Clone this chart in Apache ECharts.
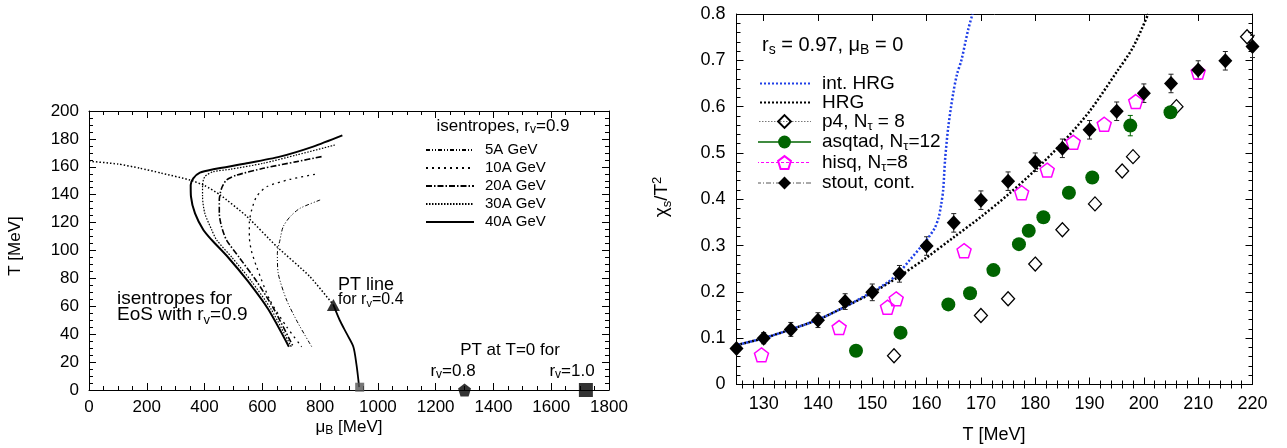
<!DOCTYPE html>
<html>
<head>
<meta charset="utf-8">
<script src="https://cdn.jsdelivr.net/npm/echarts@6/dist/echarts.min.js"></script>
<style>
  html, body { margin: 0; padding: 0; background: #fff; }
  #chart { width: 1287px; height: 448px; }
</style>
</head>
<body>
<div id="chart"></div>
<script>
const FONT = '"Liberation Sans", Arial, Helvetica, sans-serif';

// ---- Left panel: isentropes in the (mu_B, T) plane, pairs [mu_B MeV, T MeV] ----
const isen5A  = [[800,136.2],[730,130.2],[696,124.2],[672,117],[661,107.5],[652,98],[655,83.6],[684,64.5],[724,47.8],[771,31]];
const isen10A = [[782,154.6],[696,151],[615,145.7],[580,138.6],[563,129],[555,119.5],[555,110],[562,100],[580,88.4],[626,64.5],[684,45.4],[736,31]];
const isen20A = [[805,167.3],[719,163.7],[603,158.9],[511,154],[476,150.5],[459,144.6],[451,136.2],[451,126.6],[459,117],[476,107.5],[520,95],[580,78],[640,58],[707,31]];
const isen30A = [[851,175.6],[719,168.5],[603,162.5],[488,158.2],[430,156.5],[401,153],[393,147],[393,138.6],[401,126.6],[425,114.7],[442,107.5],[495,95],[562,78],[630,58],[700,31]];
const isen40A = [[877,182.5],[776,174.5],[661,167.3],[546,162.5],[430,158.2],[384,155.8],[361,151.7],[352,147],[353,138.6],[367,126.6],[396,114.7],[425,107.5],[482,95],[550,78],[620,58],[692,31]];
// phase transition line for r_v = 0.4 (crossover part, then first-order part)
const ptCrossover = [[0,164],[100,162],[176,159],[250,155.5],[350,150.5],[400,146.5],[453,140],[546,124.5],[649,103],[764,81.4],[846,61]];
const ptFirstOrder = [[846,61],[868,50],[893,40],[915,31],[926,18],[932,8],[935,2]];
const criticalPoint = [[846,61]];
const ptZeroR04 = [[937,2]];
const ptZeroR08 = [[1300,0]];
const ptZeroR10 = [[1720,0]];

// ---- Right panel: chi_s / T^2 versus T ----
const tickT = [130,140,150,160,170,180,190,200,210,220];
const tStout = [125,130,135,140,145,150,155,160,165,170,175,180,185,190,195,200,205,210,215,220];
const vStout = [0.078,0.100,0.119,0.139,0.179,0.199,0.239,0.299,0.349,0.398,0.439,0.480,0.510,0.550,0.590,0.629,0.650,0.679,0.699,0.730];
const eStout = [0.008,0.012,0.015,0.016,0.017,0.018,0.018,0.020,0.020,0.020,0.020,0.020,0.020,0.020,0.020,0.020,0.020,0.020,0.020,0.024];
const tP4 = [154.0,170.0,175.0,180.0,185.0,191.0,196.0,198.0,206.0,219.0];
const vP4 = [0.062,0.149,0.185,0.260,0.334,0.390,0.461,0.492,0.600,0.751];
const tAsq = [147.0,155.2,164.0,168.0,172.3,177.0,178.8,181.5,186.2,190.5,197.5,204.9];
const vAsq = [0.073,0.112,0.173,0.197,0.247,0.303,0.332,0.361,0.414,0.447,0.559,0.588];
const eAsq = [0.006,0.006,0.006,0.007,0.007,0.008,0.008,0.008,0.010,0.010,0.022,0.010];
const tHisq = [129.6,143.9,152.8,154.4,166.9,177.5,182.2,187.0,192.7,198.5,210.0];
const vHisq = [0.064,0.123,0.167,0.185,0.289,0.414,0.463,0.523,0.562,0.611,0.675];
const tHRG = [125,130,135,140,145,150,155,160,165,170,175,180,185,190,195,198,200.8];
const vHRG = [0.085,0.100,0.119,0.140,0.168,0.198,0.234,0.274,0.318,0.362,0.410,0.463,0.522,0.590,0.675,0.728,0.800];
const tIntHRG = [125,130,135,140,145,150,153,155,157,159,160.5,161.5,162.2,162.7,163.05,163.4,164.0,164.9,165.6,166.4,167.65,168.45];
const vIntHRG = [0.085,0.100,0.119,0.140,0.168,0.200,0.222,0.243,0.270,0.298,0.320,0.338,0.360,0.390,0.420,0.485,0.557,0.629,0.670,0.700,0.766,0.800];

// minor tick positions on the T axis (every 2 MeV between labelled ticks)
const minorT = [];
for (let t = 126; t <= 220; t += 2) if (t % 10 !== 0) minorT.push(t);

const zip = (xs, ys) => xs.map((x, i) => [x, ys[i]]);
const band = (xs, ys, es) => xs.map((x, i) => [x, ys[i] - es[i], ys[i] + es[i]]);

const PENTAGON = 'path://M0,-1L0.951,-0.309L0.588,0.809L-0.588,0.809L-0.951,-0.309Z';

function errorBars(color, cap) {
  return function (params, api) {
    const x = api.value(0);
    const a = api.coord([x, api.value(1)]);
    const b = api.coord([x, api.value(2)]);
    const st = { stroke: color, lineWidth: 1 };
    return { type: 'group', children: [
      { type: 'line', shape: { x1: a[0], y1: a[1], x2: b[0], y2: b[1] }, style: st },
      { type: 'line', shape: { x1: a[0] - cap, y1: a[1], x2: a[0] + cap, y2: a[1] }, style: st },
      { type: 'line', shape: { x1: b[0] - cap, y1: b[1], x2: b[0] + cap, y2: b[1] }, style: st }
    ]};
  };
}

function axisBase(extra) {
  return Object.assign({
    type: 'value',
    axisLine: { show: true, onZero: false, lineStyle: { color: '#000', width: 1 } },
    axisTick: { show: true, inside: true, length: 7, lineStyle: { color: '#000' } },
    splitLine: { show: false },
    axisLabel: { show: false },
    axisPointer: { show: false }
  }, extra);
}
const tickLabel = (size, margin) => ({
  show: true, color: '#000', fontFamily: FONT, fontSize: size, margin: margin,
  showMinLabel: true, showMaxLabel: true, formatter: v => String(v)
});

// rich text for zrender graphic texts
function richSet(F) {
  const small = Math.round(F * 0.68);
  return {
    m: { fontSize: F, lineHeight: Math.round(F * 1.2), fontFamily: FONT, fill: '#000' },
    s: { fontSize: small, lineHeight: Math.round(F * 0.5), verticalAlign: 'bottom', fontFamily: FONT, fill: '#000' },
    p: { fontSize: small, lineHeight: Math.round(F * 0.5), verticalAlign: 'top', fontFamily: FONT, fill: '#000' }
  };
}
function label(x, y, text, F, align, rot) {
  return {
    type: 'text', x: x, y: y, rotation: rot || 0, silent: true, z: 100,
    style: { text: text, rich: richSet(F), align: align || 'left', verticalAlign: 'middle', fill: '#000', fontFamily: FONT, fontSize: F }
  };
}

const legendRich = {
  'int. HRG': '{m|int. HRG}',
  'HRG': '{m|HRG}',
  'p4, Nτ = 8': '{m|p4, N}{s|τ}{m| = 8}',
  'asqtad, Nτ=12': '{m|asqtad, N}{s|τ}{m|=12}',
  'hisq, Nτ=8': '{m|hisq, N}{s|τ}{m|=8}',
  'stout, cont.': '{m|stout, cont.}'
};
const lineOnly = { itemStyle: { opacity: 0 } };

const chart = echarts.init(document.getElementById('chart'), null, { renderer: 'canvas' });

chart.setOption({
  animation: false,
  backgroundColor: '#fff',
  grid: [
    { left: 89, top: 111, width: 520, height: 279 },
    { left: 736.5, top: 14, width: 516, height: 370.5 }
  ],
  xAxis: [
    axisBase({ gridIndex: 0, min: 0, max: 1800, interval: 200, position: 'bottom',
      minorTick: { show: true, splitNumber: 4, length: 4, lineStyle: { color: '#000' } },
      axisLabel: tickLabel(17, 9) }),
    axisBase({ gridIndex: 0, min: 0, max: 1800, interval: 200, position: 'top',
      minorTick: { show: true, splitNumber: 4, length: 4, lineStyle: { color: '#000' } } }),
    axisBase({ gridIndex: 1, min: 125, max: 220, position: 'bottom',
      axisTick: { show: true, inside: true, length: 7, customValues: tickT, lineStyle: { color: '#000' } },
      axisLabel: Object.assign(tickLabel(18, 11), { customValues: tickT }) }),
    axisBase({ gridIndex: 1, min: 125, max: 220, position: 'top',
      axisTick: { show: true, inside: true, length: 7, customValues: tickT, lineStyle: { color: '#000' } } }),
    axisBase({ gridIndex: 1, min: 125, max: 220, position: 'bottom', axisLine: { show: false },
      axisTick: { show: true, inside: true, length: 4, customValues: minorT, lineStyle: { color: '#000' } } }),
    axisBase({ gridIndex: 1, min: 125, max: 220, position: 'top', axisLine: { show: false },
      axisTick: { show: true, inside: true, length: 4, customValues: minorT, lineStyle: { color: '#000' } } })
  ],
  yAxis: [
    axisBase({ gridIndex: 0, min: 0, max: 200, interval: 20, position: 'left',
      minorTick: { show: true, splitNumber: 4, length: 4, lineStyle: { color: '#000' } },
      axisLabel: tickLabel(17, 10) }),
    axisBase({ gridIndex: 0, min: 0, max: 200, interval: 20, position: 'right',
      minorTick: { show: true, splitNumber: 4, length: 4, lineStyle: { color: '#000' } } }),
    axisBase({ gridIndex: 1, min: 0, max: 0.8, interval: 0.1, position: 'left',
      minorTick: { show: true, splitNumber: 5, length: 4, lineStyle: { color: '#000' } },
      axisLabel: tickLabel(18, 11) }),
    axisBase({ gridIndex: 1, min: 0, max: 0.8, interval: 0.1, position: 'right',
      minorTick: { show: true, splitNumber: 5, length: 4, lineStyle: { color: '#000' } } })
  ],
  legend: [
    {
      orient: 'vertical', left: 420, top: 137, itemWidth: 48, itemHeight: 10, itemGap: 2,
      selectedMode: false,
      textStyle: { fontFamily: FONT, fontSize: 15, color: '#000', lineHeight: 16, padding: [0, 0, 0, 6] },
      data: ['5A GeV', '10A GeV', '20A GeV', '30A GeV', '40A GeV'].map(n => Object.assign({ name: n }, lineOnly))
    },
    {
      orient: 'vertical', left: 752, top: 69, itemWidth: 53, itemHeight: 16, itemGap: 0,
      selectedMode: false,
      formatter: name => legendRich[name] || name,
      textStyle: {
        fontFamily: FONT, fontSize: 19, color: '#000', padding: [0, 0, 0, 6],
        rich: {
          m: { fontFamily: FONT, fontSize: 19, lineHeight: 22, color: '#000' },
          s: { fontFamily: FONT, fontSize: 13, lineHeight: 10, verticalAlign: 'bottom', color: '#000' }
        }
      },
      data: [
        Object.assign({ name: 'int. HRG' }, lineOnly),
        Object.assign({ name: 'HRG' }, lineOnly),
        { name: 'p4, Nτ = 8', lineStyle: { color: '#777', width: 1, type: [1.5, 1.5], opacity: 1 } },
        { name: 'asqtad, Nτ=12', lineStyle: { color: '#006400', width: 1.3, type: 'solid', opacity: 1 } },
        { name: 'hisq, Nτ=8', lineStyle: { color: '#ff00ff', width: 1, type: [3, 2], opacity: 1 } },
        { name: 'stout, cont.', lineStyle: { color: '#555', width: 1, type: [5, 2, 1, 2], opacity: 1 } }
      ]
    }
  ],
  graphic: [
    // left panel labels
    label(15, 246, '{m|T [MeV]}', 17, 'center', Math.PI / 2),
    label(349, 427, '{m|μ}{s|B}{m| [MeV]}', 17, 'center'),
    label(503, 126, '{m|isentropes, r}{s|v}{m|=0.9}', 17, 'center'),
    label(117, 299, '{m|isentropes for}', 19, 'left'),
    label(117, 315, '{m|EoS with r}{s|v}{m|=0.9}', 19, 'left'),
    label(338, 285, '{m|PT line}', 18, 'left'),
    label(338, 300, '{m|for r}{s|v}{m|=0.4}', 16, 'left'),
    label(510, 350, '{m|PT at T=0 for}', 17, 'center'),
    label(453, 371, '{m|r}{s|v}{m|=0.8}', 17, 'center'),
    label(572, 371, '{m|r}{s|v}{m|=1.0}', 17, 'center'),
    // right panel labels
    label(662, 197, '{m|χ}{s|s}{m|/T}{p|2}', 19, 'center', Math.PI / 2),
    label(994, 435, '{m|T [MeV]}', 18, 'center'),
    label(762, 45, '{m|r}{s|s}{m| = 0.97, μ}{s|B}{m| = 0}', 20, 'left')
  ],
  series: [
    // ---- left panel ----
    { name: '5A GeV', type: 'line', xAxisIndex: 0, yAxisIndex: 0, data: isen5A, symbol: 'none', smooth: 0.25, silent: true,
      itemStyle: { color: '#000' }, lineStyle: { color: '#000', width: 1, type: [4, 2, 1, 2, 1, 2] } },
    { name: '10A GeV', type: 'line', xAxisIndex: 0, yAxisIndex: 0, data: isen10A, symbol: 'none', smooth: 0.25, silent: true,
      itemStyle: { color: '#000' }, lineStyle: { color: '#000', width: 1.3, type: [2, 4] } },
    { name: '20A GeV', type: 'line', xAxisIndex: 0, yAxisIndex: 0, data: isen20A, symbol: 'none', smooth: 0.25, silent: true,
      itemStyle: { color: '#000' }, lineStyle: { color: '#000', width: 1.6, type: [6, 2, 1.5, 2] } },
    { name: '30A GeV', type: 'line', xAxisIndex: 0, yAxisIndex: 0, data: isen30A, symbol: 'none', smooth: 0.25, silent: true,
      itemStyle: { color: '#000' }, lineStyle: { color: '#000', width: 1.2, type: [1.5, 1.5] } },
    { name: '40A GeV', type: 'line', xAxisIndex: 0, yAxisIndex: 0, data: isen40A, symbol: 'none', smooth: 0.25, silent: true,
      itemStyle: { color: '#000' }, lineStyle: { color: '#000', width: 2 } },
    { name: 'PT crossover', type: 'line', xAxisIndex: 0, yAxisIndex: 0, data: ptCrossover, symbol: 'none', smooth: 0.2, silent: true,
      lineStyle: { color: '#000', width: 1.5, type: [1.5, 2] } },
    { name: 'PT first order', type: 'line', xAxisIndex: 0, yAxisIndex: 0, data: ptFirstOrder, symbol: 'none', smooth: 0.3, silent: true,
      lineStyle: { color: '#000', width: 1.8 } },
    { name: 'critical point', type: 'scatter', xAxisIndex: 0, yAxisIndex: 0, data: criticalPoint, symbol: 'triangle', symbolSize: [13, 12],
      itemStyle: { color: '#000' }, silent: true, clip: false, z: 5 },
    { name: 'T=0 r_v=0.4', type: 'scatter', xAxisIndex: 0, yAxisIndex: 0, data: ptZeroR04, symbol: 'rect', symbolSize: 9,
      itemStyle: { color: '#555' }, silent: true, clip: false, z: 5 },
    { name: 'T=0 r_v=0.8', type: 'scatter', xAxisIndex: 0, yAxisIndex: 0, data: ptZeroR08, symbol: PENTAGON, symbolSize: 13,
      itemStyle: { color: '#000' }, silent: true, clip: false, z: 5 },
    { name: 'T=0 r_v=1.0', type: 'scatter', xAxisIndex: 0, yAxisIndex: 0, data: ptZeroR10, symbol: 'rect', symbolSize: 14,
      itemStyle: { color: '#000' }, silent: true, clip: false, z: 5 },

    // ---- right panel ----
    { name: 'HRG', type: 'line', xAxisIndex: 2, yAxisIndex: 2, data: zip(tHRG, vHRG), symbol: 'none', smooth: 0.3, silent: true,
      itemStyle: { color: '#000' }, lineStyle: { color: '#000', width: 2.5, type: [2, 2] } },
    { name: 'int. HRG', type: 'line', xAxisIndex: 2, yAxisIndex: 2, data: zip(tIntHRG, vIntHRG), symbol: 'none', smooth: 0.3, silent: true,
      itemStyle: { color: '#1f3fe8' }, lineStyle: { color: '#1f3fe8', width: 2.5, type: [2, 2], dashOffset: 2 } },
    { name: 'stout errors', type: 'custom', xAxisIndex: 2, yAxisIndex: 2, data: band(tStout, vStout, eStout),
      renderItem: errorBars('#222', 2.5), encode: { x: 0, y: [1, 2] }, silent: true, z: 3 },
    { name: 'asqtad errors', type: 'custom', xAxisIndex: 2, yAxisIndex: 2, data: band(tAsq, vAsq, eAsq),
      renderItem: errorBars('#006400', 2.5), encode: { x: 0, y: [1, 2] }, silent: true, z: 3 },
    { name: 'p4, Nτ = 8', type: 'line', xAxisIndex: 2, yAxisIndex: 2, data: zip(tP4, vP4), silent: true, z: 4,
      symbol: 'diamond', symbolSize: [13, 14], showSymbol: true,
      lineStyle: { opacity: 0 },
      itemStyle: { color: 'rgba(255,255,255,0)', borderColor: '#000', borderWidth: 1.3 } },
    { name: 'asqtad, Nτ=12', type: 'line', xAxisIndex: 2, yAxisIndex: 2, data: zip(tAsq, vAsq), silent: true, z: 4,
      symbol: 'circle', symbolSize: 14, showSymbol: true,
      lineStyle: { opacity: 0 },
      itemStyle: { color: '#006400', borderWidth: 0 } },
    { name: 'hisq, Nτ=8', type: 'line', xAxisIndex: 2, yAxisIndex: 2, data: zip(tHisq, vHisq), silent: true, z: 4,
      symbol: PENTAGON, symbolSize: 14, showSymbol: true,
      lineStyle: { opacity: 0 },
      itemStyle: { color: 'rgba(255,255,255,0)', borderColor: '#ff00ff', borderWidth: 1.5 } },
    { name: 'stout, cont.', type: 'line', xAxisIndex: 2, yAxisIndex: 2, data: zip(tStout, vStout), silent: true, z: 4,
      symbol: 'diamond', symbolSize: [14, 15], showSymbol: true,
      lineStyle: { opacity: 0 },
      itemStyle: { color: '#000', borderWidth: 0 } }
  ]
});
</script>
</body>
</html>
